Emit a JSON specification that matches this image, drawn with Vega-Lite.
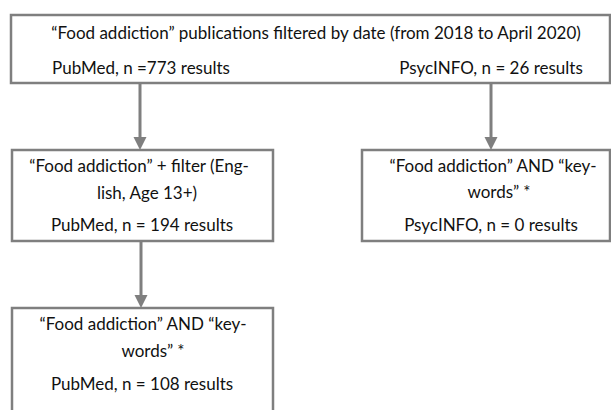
{
  "$schema": "https://vega.github.io/schema/vega-lite/v6.json",
  "width": 611,
  "height": 410,
  "autosize": {"type": "fit", "contains": "padding"},
  "padding": 0,
  "background": "white",
  "config": {"view": {"stroke": null}},
  "datasets": {
    "boxes": [
      {"id": "top", "x0": 11, "x1": 610, "y0": 15, "y1": 83},
      {"id": "pubmed_filter", "x0": 12, "x1": 273, "y0": 150, "y1": 241},
      {"id": "psyc_keywords", "x0": 362, "x1": 610, "y0": 150, "y1": 241},
      {"id": "pubmed_keywords", "x0": 12, "x1": 273, "y0": 308, "y1": 425}
    ],
    "arrows": [
      {"x": 140, "from": 83, "to": 150},
      {"x": 491, "from": 83, "to": 150},
      {"x": 141, "from": 241, "to": 308}
    ],
    "labels": [
      {"x": 316, "y": 34, "text": "“Food addiction” publications filtered by date (from 2018 to April 2020)"},
      {"x": 141, "y": 69, "text": "PubMed, n =773 results"},
      {"x": 491, "y": 69, "text": "PsycINFO, n = 26 results"},
      {"x": 139, "y": 167, "text": "“Food addiction” + filter (Eng-"},
      {"x": 147, "y": 194, "text": "lish, Age 13+)"},
      {"x": 142, "y": 226, "text": "PubMed, n = 194 results"},
      {"x": 493, "y": 167, "text": "“Food addiction” AND “key-"},
      {"x": 499, "y": 193, "text": "words” *"},
      {"x": 491, "y": 226, "text": "PsycINFO, n = 0 results"},
      {"x": 143, "y": 325, "text": "“Food addiction” AND “key-"},
      {"x": 153, "y": 352, "text": "words” *"},
      {"x": 142, "y": 385, "text": "PubMed, n = 108 results"}
    ]
  },
  "layer": [
    {
      "data": {"name": "boxes"},
      "mark": {"type": "rect", "fill": "white", "stroke": "#7f7f7f", "strokeWidth": 2.5, "clip": true},
      "encoding": {
        "x": {"field": "x0", "type": "quantitative", "scale": {"domain": [0, 611], "nice": false, "zero": false}, "axis": null},
        "x2": {"field": "x1"},
        "y": {"field": "y0", "type": "quantitative", "scale": {"domain": [0, 410], "nice": false, "zero": false, "reverse": true}, "axis": null},
        "y2": {"field": "y1"}
      }
    },
    {
      "data": {"name": "arrows"},
      "mark": {"type": "rule", "stroke": "#7f7f7f", "strokeWidth": 3, "y2Offset": -12},
      "encoding": {
        "x": {"field": "x", "type": "quantitative"},
        "y": {"field": "from", "type": "quantitative"},
        "y2": {"field": "to"}
      }
    },
    {
      "data": {"name": "arrows"},
      "mark": {"type": "point", "shape": "M-1,-1L1,-1L0,1Z", "filled": true, "fill": "#7f7f7f", "stroke": null, "size": 169, "opacity": 1, "yOffset": -6.5},
      "encoding": {
        "x": {"field": "x", "type": "quantitative"},
        "y": {"field": "to", "type": "quantitative"}
      }
    },
    {
      "data": {"name": "labels"},
      "mark": {"type": "text", "font": "Lato", "fontSize": 17, "color": "#111111", "align": "center", "baseline": "middle"},
      "encoding": {
        "x": {"field": "x", "type": "quantitative"},
        "y": {"field": "y", "type": "quantitative"},
        "text": {"field": "text"}
      }
    }
  ]
}
